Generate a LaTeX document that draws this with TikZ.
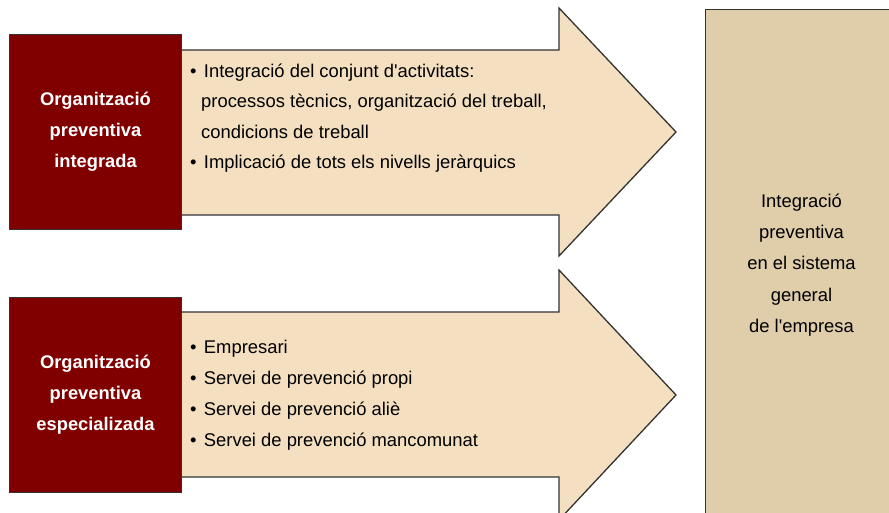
\documentclass[tikz,border=0pt]{standalone}
\usepackage{fontspec}
\setmainfont{Liberation Sans}
\definecolor{boxred}{RGB}{128,0,0}
\definecolor{arrowfill}{RGB}{244,224,193}
\definecolor{targetfill}{RGB}{224,205,170}
\definecolor{edgegray}{RGB}{50,50,50}
\newcommand{\bul}{•\hspace{7.3pt}}
\begin{document}
\begin{tikzpicture}[x=1pt,y=-1pt,
  txt/.style={inner sep=0pt,anchor=base west,font=\fontsize{18.4}{22}\selectfont,text=black},
  ctxt/.style={inner sep=0pt,anchor=base,font=\fontsize{18.4}{22}\selectfont,text=black},
  wtxt/.style={inner sep=0pt,anchor=base,font=\fontsize{18.3}{22}\selectfont\bfseries,text=white},
  redbox/.style={draw=edgegray,line width=1pt,fill=boxred,minimum width=172pt,minimum height=195pt,inner sep=0pt},
  bigarrow/.style={draw=edgegray,line width=1.3pt,fill=arrowfill,line join=miter},
  targetbox/.style={draw=edgegray,line width=1pt,fill=targetfill,minimum width=195pt,minimum height=520pt,inner sep=0pt}]
\useasboundingbox (0,0) rectangle (889,513);
\clip (0,0) rectangle (889,513);
% target box
\node[targetbox] (target) at (802.5,270) {};
% arrows
\draw[bigarrow] (181,50) -- (559,50) -- (559,8) -- (676,132) -- (559,256) -- (559,215) -- (181,215) -- cycle;
\draw[bigarrow] (181,312) -- (559,312) -- (559,270) -- (676,395) -- (559,520) -- (559,477) -- (181,477) -- cycle;
% red boxes
\node[redbox] (org1) at (95,132.5) {};
\node[redbox] (org2) at (95,394.5) {};
% red box texts
\node[wtxt] (o1a) at (95.5,106) {Organització};
\node[wtxt] (o1b) at (95.5,137) {preventiva};
\node[wtxt] (o1c) at (95.5,168) {integrada};
\node[wtxt] (o2a) at (95.5,368) {Organització};
\node[wtxt] (o2b) at (95.5,399) {preventiva};
\node[wtxt] (o2c) at (95.5,430) {especializada};
% top list
\node[txt] (t1) at (190,77.5) {\bul Integració del conjunt d\textquotesingle activitats:};
\node[txt] (t2) at (201,108) {processos tècnics, organització del treball,};
\node[txt] (t3) at (201,138.5) {condicions de treball};
\node[txt] (t4) at (190,169) {\bul Implicació de tots els nivells jeràrquics};
% bottom list
\node[txt] (b1) at (190,353) {\bul Empresari};
\node[txt] (b2) at (190,384) {\bul Servei de prevenció propi};
\node[txt] (b3) at (190,415) {\bul Servei de prevenció aliè};
\node[txt] (b4) at (190,446) {\bul Servei de prevenció mancomunat};
% target text
\node[ctxt] (g1) at (801.5,207.5) {Integració};
\node[ctxt] (g2) at (801.5,238.5) {preventiva};
\node[ctxt] (g3) at (801.5,269.5) {en el sistema};
\node[ctxt] (g4) at (801.5,301) {general};
\node[ctxt] (g5) at (801.5,332) {de l\textquotesingle empresa};
\end{tikzpicture}
\end{document}
